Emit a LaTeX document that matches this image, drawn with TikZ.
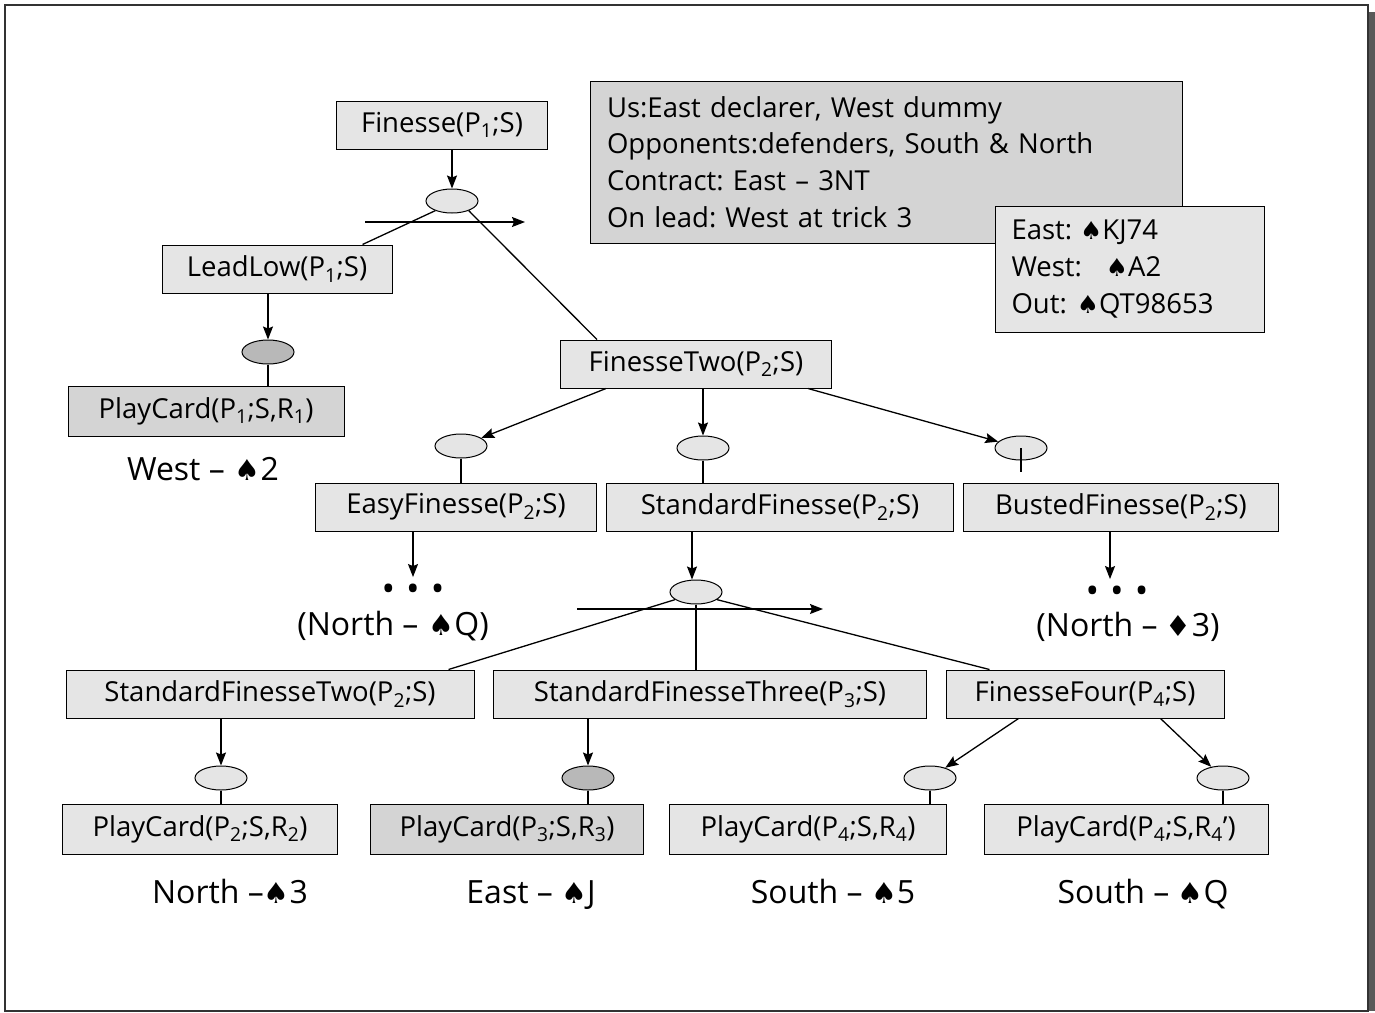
\documentclass[tikz,border=0pt]{standalone}
\usepackage{fontspec}
\setmainfont{Open Sans}
\newfontfamily\suitfont[Scale=0.9]{DejaVu Sans}
\usepackage{tikz}
\usetikzlibrary{positioning,arrows.meta,shapes.geometric}

\definecolor{boxgray}{gray}{0.90}
\definecolor{infogray}{gray}{0.83}
\definecolor{playgray}{gray}{0.83}
\definecolor{ovalgray}{gray}{0.90}
\definecolor{darkoval}{gray}{0.72}

\newcommand{\spd}{{\suitfont ♠}}
\newcommand{\dmd}{{\suitfont ♦}}
\newcommand{\idx}[1]{\textsubscript{#1}}
\frenchspacing

\tikzset{
  tbox/.style={draw, fill=boxgray, minimum height=48pt, inner sep=0pt, line width=1pt},
  pbox/.style={tbox, fill=playgray, minimum height=50pt},
  chance/.style={ellipse, draw, fill=ovalgray, minimum width=52pt, minimum height=24pt, inner sep=0pt, line width=1pt},
  lbl/.style={inner sep=0pt, anchor=base, font=\fontsize{32}{36}\selectfont},
  dots/.style={inner sep=0pt, font=\fontsize{36}{36}\selectfont},
  arr/.style={-{Stealth[length=13pt,width=10pt,inset=2pt]}, line width=1.3pt},
  ln/.style={line width=1.3pt}
}

\begin{document}
\begin{tikzpicture}[x=1pt,y=-1pt,font=\fontsize{27.5}{36.7}\selectfont]
\useasboundingbox (0,0) rectangle (1375,1012);
% frame with shadow
\fill[black!65] (1368,12) rectangle (1375,1011);
\draw[line width=1.5pt, black!80, fill=white] (5,5) rectangle (1368,1011);

% info boxes
\node[tbox, fill=infogray, minimum width=592pt, minimum height=162pt, text width=558pt, inner xsep=17pt, align=left] (info) at (886,162)
  {Us:East declarer, West dummy\\Opponents:defenders, South \& North\\Contract: East – 3NT\\On lead: West at trick 3};
\node[tbox, minimum width=269pt, minimum height=126pt, text width=237pt, inner xsep=16pt, align=left] (hand) at (1130,269)
  {East:\hspace{8pt}\spd KJ74\\West:\hspace{24pt}\spd A2\\Out:\hspace{10pt}\spd QT98653};

% top level
\node[tbox, minimum width=211pt] (fin) at (442,125) {Finesse(P\idx{1};S)};
\node[chance] (c1) at (452,201) {};
\node[tbox, minimum width=230pt] (lead) at (277,269) {LeadLow(P\idx{1};S)};
\node[chance, fill=darkoval] (c2) at (268,352) {};
\node[pbox, minimum width=276pt] (play1) at (206,411) {PlayCard(P\idx{1};S,R\idx{1})};
\node[lbl] (west) at (203,480) {West –\hspace{10pt}\spd 2};
\node[tbox, minimum width=271pt] (two) at (696,364) {FinesseTwo(P\idx{2};S)};

\coordinate (sweepA) at (365,222);
\coordinate (sweepB) at (525,222);
\draw[arr] (fin.south -| c1) -- (c1.north);
\draw[ln] (c1.210) -- ([xshift=-30pt]lead.north east);
\draw[ln] (c1.330) -- ([xshift=37pt]two.north west);
\draw[arr] (sweepA) -- (sweepB);
\draw[arr] (lead.south -| c2) -- (c2.north);
\draw[ln] (c2.south) -- (play1.north -| c2);

% second level
\node[chance] (c3) at (461,446) {};
\node[chance] (c4) at (703,448) {};
\node[chance] (c5) at (1021,448) {};
\node[tbox, minimum width=281pt] (easy) at (456,507) {EasyFinesse(P\idx{2};S)};
\node[tbox, minimum width=347pt] (std) at (780,507) {StandardFinesse(P\idx{2};S)};
\node[tbox, minimum width=315pt] (bust) at (1121,507) {BustedFinesse(P\idx{2};S)};
\draw[arr] ([xshift=46pt]two.south west) -- (c3);
\draw[arr] (two.south -| c4) -- (c4.north);
\draw[arr] ([xshift=-24pt]two.south east) -- (c5);
\draw[ln] (c3.south) -- (easy.north -| c3);
\draw[ln] (c4.south) -- (std.north -| c4);
\draw[ln] (c5.center) -- ++(0,24);

\node[dots] (dotsA) at (413,593) {\textbullet\hspace{11pt}\textbullet\hspace{11pt}\textbullet};
\node[lbl] (northQ) at (393,635) {(North –\hspace{10pt}\spd Q)};
\node[dots] (dotsB) at (1117,595) {\textbullet\hspace{11pt}\textbullet\hspace{11pt}\textbullet};
\node[lbl] (north3) at (1128,636) {(North – \dmd 3)};
\draw[arr, shorten >=7pt] (easy.south -| dotsA) -- (dotsA.north);
\draw[arr, shorten >=7pt] (bust.south -| 1110,0) -- (dotsB.north -| 1110,0);

% third level
\node[chance] (c6) at (696,592) {};
\node[tbox, minimum width=408pt] (stdtwo) at (270,694) {StandardFinesseTwo(P\idx{2};S)};
\node[tbox, minimum width=433pt] (stdthree) at (710,694) {StandardFinesseThree(P\idx{3};S)};
\node[tbox, minimum width=278pt] (four) at (1085,694) {FinesseFour(P\idx{4};S)};
\coordinate (sweepC) at (577,609);
\coordinate (sweepD) at (823,609);
\draw[arr] ([xshift=-88pt]std.south) -- (c6.north -| 692,0);
\draw[ln] (c6.200) -- ([xshift=-26pt]stdtwo.north east);
\draw[ln] (c6.south) -- (stdthree.north -| c6);
\draw[ln] (c6.340) -- ([xshift=44pt]four.north west);
\draw[arr] (sweepC) -- (sweepD);

% leaves
\node[chance] (c7) at (221,778) {};
\node[chance, fill=darkoval] (c8) at (588,778) {};
\node[chance] (c9) at (930,778) {};
\node[chance] (c10) at (1223,778) {};
\node[pbox, fill=boxgray, minimum width=275pt] (play2) at (200,829) {PlayCard(P\idx{2};S,R\idx{2})};
\node[pbox, minimum width=273pt] (play3) at (507,829) {PlayCard(P\idx{3};S,R\idx{3})};
\node[pbox, fill=boxgray, minimum width=277pt] (play4) at (808,829) {PlayCard(P\idx{4};S,R\idx{4})};
\node[pbox, fill=boxgray, minimum width=284pt] (play5) at (1126,829) {PlayCard(P\idx{4};S,R\idx{4}\textquoteright)};
\draw[arr] (stdtwo.south -| c7) -- (c7.north);
\draw[arr] (stdthree.south -| c8) -- (c8.north);
\draw[arr] ([xshift=73pt]four.south west) -- (c9);
\draw[arr] ([xshift=-64pt]four.south east) -- (c10);
\draw[ln] (c7.south) -- (play2.north -| c7);
\draw[ln] (c8.south) -- (play3.north -| c8);
\draw[ln] (c9.south) -- (play4.north -| c9);
\draw[ln] (c10.south) -- (play5.north -| c10);

\node[lbl] (north2) at (230,903) {North –\spd 3};
\node[lbl] (eastJ) at (531,903) {East – \spd J};
\node[lbl] (south5) at (833,903) {South – \spd 5};
\node[lbl] (southQ) at (1143,903) {South – \spd Q};
\end{tikzpicture}
\end{document}
